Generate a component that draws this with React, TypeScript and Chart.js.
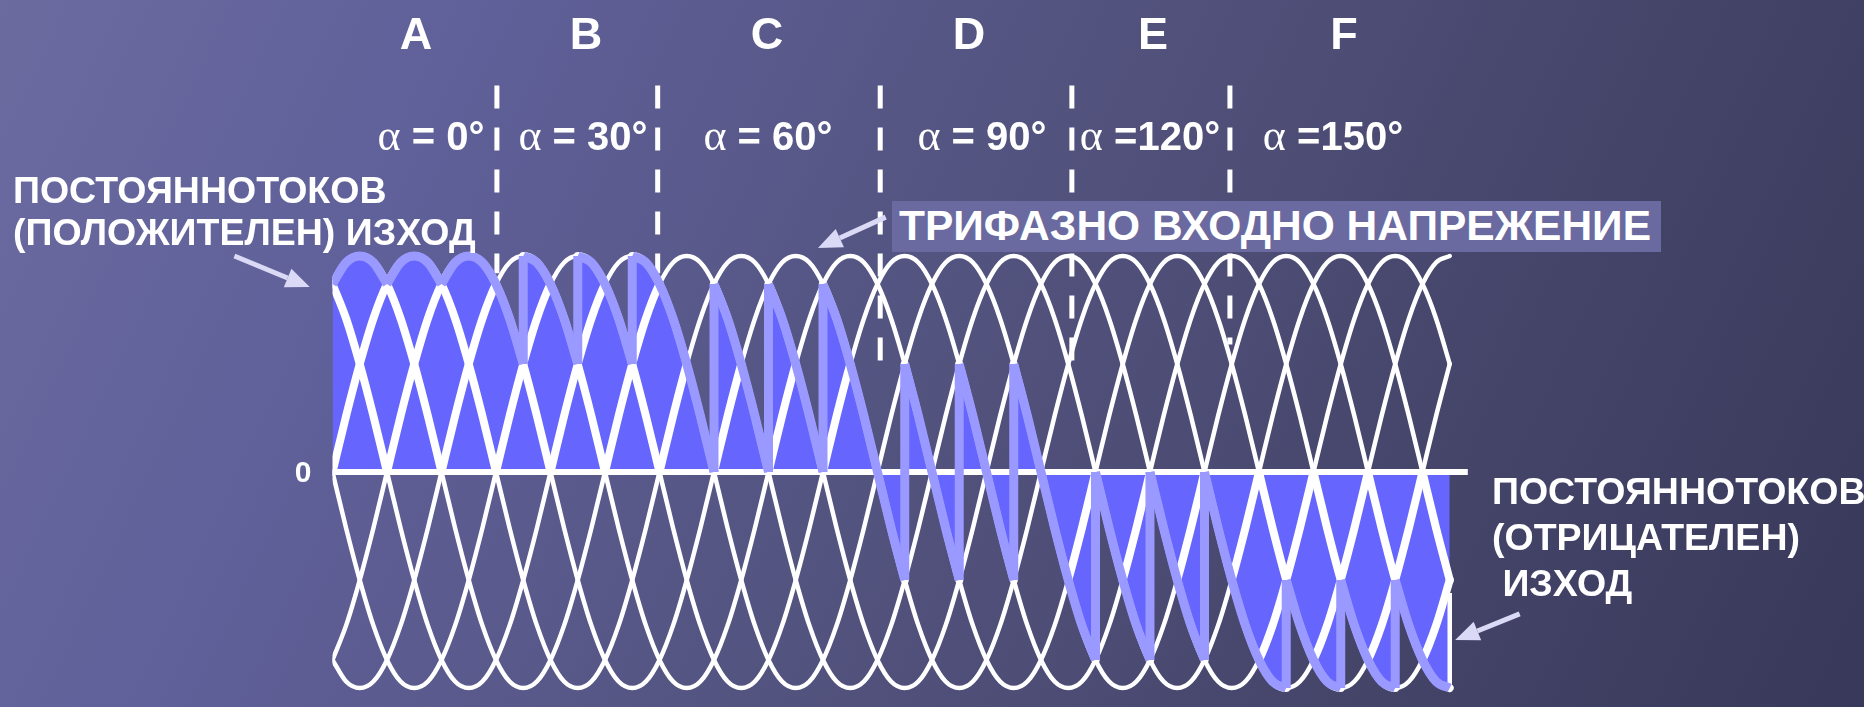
import React, { useEffect, useRef } from 'react';
import { Chart, registerables } from 'chart.js';

Chart.register(...registerables);

// ---------- data (angles in electrical degrees, values in per-unit of peak) ----------
const sampleStep = 15;
const angleStart = -60;
const angleEnd = 1170;
const zeroLineEnd = 1190;

// one period of an input phase voltage, read every 15°
const phaseCycle = [
  0, 0.26, 0.5, 0.71, 0.87, 0.97, 1, 0.97, 0.87, 0.71, 0.5, 0.26,
  0, -0.26, -0.5, -0.71, -0.87, -0.97, -1, -0.97, -0.87, -0.71, -0.5, -0.26,
];
// the six input curves (three phases and their inverses), phase shift in degrees
const phaseShifts = [0, 60, 120, 180, 240, 300];

// firing instants of the converter and the input curve switched in at each one
const firingAngles = [-60, 0, 60, 150, 210, 270, 360, 420, 480, 570, 630, 690, 780, 840, 900, 990, 1050, 1110];
const firedPhase = [5, 0, 1, 2, 3, 4, 5, 0, 1, 2, 3, 4, 5, 0, 1, 2, 3, 4];
// closing edge of the output at the right end
const rightEdge = [-0.56, -1.0];

const sectionLetters = ['A', 'B', 'C', 'D', 'E', 'F'];
const firingDelays = ['0°', '30°', '60°', '90°', '120°', '150°'];
const delaySeparators = [' = ', ' = ', ' = ', ' = ', ' =', ' ='];

// dashed section dividers
const dividerAngles = [121, 298, 543, 754, 928];
const dividerTop = 1.79;
const dividerBottoms = [0.92, 0.92, 0.51, 0.48, 0.59];

// arrows (angle, value)
const arrowTails = [[-168, 1.0], [549, 1.18], [1247, -0.657]];
const arrowTips = [[-85, 0.856], [474.5, 1.037], [1176, -0.778]];

// ---------- layout ----------
const W = 1864;
const H = 707;
const letterX = [416, 586, 767, 969, 1153, 1344];
const delayX = [431, 583, 768, 982, 1150, 1333];

const WHITE = '#ffffff';
const FILL = '#6666ff';
const OUTPUT = '#9999ff';
const ARROW = '#dadaf6';

const mod = (a: number, n: number) => ((a % n) + n) % n;
const phaseValue = (j: number, angle: number) =>
  phaseCycle[mod(Math.round((angle + 60 - phaseShifts[j]) / sampleStep), phaseCycle.length)];

const angles: number[] = [];
for (let a = angleStart; a <= angleEnd; a += sampleStep) angles.push(a);

const outputOn = (a0: number, a1: number) => {
  const mid = (a0 + a1) / 2;
  let i = firingAngles.length - 1;
  while (i > 0 && firingAngles[i] > mid) i--;
  const j = firedPhase[i];
  return (phaseValue(j, a0) + phaseValue(j, a1)) / 2;
};

function buildDatasets() {
  const ds: any[] = [];
  const area: { x: number; y: number }[] = [];

  // output arcs
  for (let i = 0; i < firingAngles.length; i++) {
    const from = firingAngles[i];
    const to = i + 1 < firingAngles.length ? firingAngles[i + 1] : angleEnd;
    const pts: { x: number; y: number }[] = [];
    for (let a = from; a <= to; a += sampleStep) pts.push({ x: a, y: phaseValue(firedPhase[i], a) });
    area.push(...pts);
    ds.push({
      label: 'output ' + i,
      data: pts,
      borderColor: OUTPUT,
      borderWidth: 9,
      fill: false,
      cubicInterpolationMode: 'monotone',
      borderCapStyle: 'butt',
      borderJoinStyle: 'round',
      order: 0,
    });
  }

  // filled output area (one polygon, no seams)
  ds.push({
    label: 'output area',
    data: area,
    borderWidth: 0,
    borderColor: 'rgba(0,0,0,0)',
    backgroundColor: FILL,
    fill: 'origin',
    tension: 0,
    order: 5,
  });

  // output jumps at firing instants
  const jumps: { x: number; y: number | null }[] = [];
  for (let i = 1; i < firingAngles.length; i++) {
    const a = firingAngles[i];
    jumps.push({ x: a, y: phaseValue(firedPhase[i - 1], a) });
    jumps.push({ x: a, y: phaseValue(firedPhase[i], a) });
    jumps.push({ x: a, y: null });
  }
  ds.push({
    label: 'jumps',
    data: jumps,
    borderColor: OUTPUT,
    borderWidth: 9,
    fill: false,
    tension: 0,
    borderCapStyle: 'butt',
    order: 0,
  });

  // dashed dividers
  dividerAngles.forEach((a, i) => {
    ds.push({
      label: 'divider ' + i,
      data: [{ x: a, y: dividerTop }, { x: a, y: dividerBottoms[i] }],
      borderColor: WHITE,
      borderWidth: 5,
      borderDash: [23, 19],
      fill: false,
      tension: 0,
      order: 1,
    });
  });

  // zero line
  ds.push({
    label: 'zero',
    data: [{ x: angleStart, y: 0 }, { x: zeroLineEnd, y: 0 }],
    borderColor: WHITE,
    borderWidth: 6,
    fill: false,
    tension: 0,
    order: 2,
  });

  // right closing edge
  ds.push({
    label: 'edge',
    data: [{ x: angleEnd, y: rightEdge[0] }, { x: angleEnd, y: rightEdge[1] }],
    borderColor: WHITE,
    borderWidth: 4.5,
    fill: false,
    tension: 0,
    order: 2,
  });

  // six input curves
  phaseShifts.forEach((_, j) => {
    const vals = angles.map((a) => phaseValue(j, a));
    ds.push({
      label: 'phase ' + j,
      data: angles.map((a, k) => ({ x: a, y: vals[k] })),
      borderColor: WHITE,
      borderWidth: 4.5,
      fill: false,
      cubicInterpolationMode: 'monotone',
      borderCapStyle: 'round',
      borderJoinStyle: 'round',
      order: 3,
      segment: {
        borderWidth: (c: any) => {
          const a0 = angles[c.p0DataIndex];
          const a1 = angles[c.p1DataIndex];
          const v = (vals[c.p0DataIndex] + vals[c.p1DataIndex]) / 2;
          const out = outputOn(a0, a1);
          const inside = out >= 0 ? v >= -0.01 && v <= out + 0.01 : v <= 0.01 && v >= out - 0.01;
          return inside ? 8 : 4.5;
        },
      },
    });
  });

  return ds;
}

const arrowPlugin = {
  id: 'arrows',
  afterDatasetsDraw(chart: any) {
    const { ctx } = chart;
    const xs = chart.scales.x;
    const ys = chart.scales.y;
    ctx.save();
    ctx.strokeStyle = ARROW;
    ctx.fillStyle = ARROW;
    ctx.lineWidth = 5;
    ctx.lineCap = 'butt';
    arrowTails.forEach((t, i) => {
      const x0 = xs.getPixelForValue(t[0]);
      const y0 = ys.getPixelForValue(t[1]);
      const x1 = xs.getPixelForValue(arrowTips[i][0]);
      const y1 = ys.getPixelForValue(arrowTips[i][1]);
      const ang = Math.atan2(y1 - y0, x1 - x0);
      const head = 24;
      const half = 10;
      const bx = x1 - head * Math.cos(ang);
      const by = y1 - head * Math.sin(ang);
      ctx.beginPath();
      ctx.moveTo(x0, y0);
      ctx.lineTo(bx, by);
      ctx.stroke();
      ctx.beginPath();
      ctx.moveTo(x1, y1);
      ctx.lineTo(bx + half * Math.sin(ang), by - half * Math.cos(ang));
      ctx.lineTo(bx - half * Math.sin(ang), by + half * Math.cos(ang));
      ctx.closePath();
      ctx.fill();
    });
    ctx.restore();
  },
};

const FONT = "'Liberation Sans', Arial, sans-serif";

function Text(props: { x: number; cy: number; size: number; children: any; center?: boolean; style?: any }) {
  const { x, cy, size, center } = props;
  const style: any = {
    position: 'absolute',
    top: cy - size * 0.49,
    fontFamily: FONT,
    fontWeight: 'bold',
    fontSize: size,
    lineHeight: size + 'px',
    color: WHITE,
    whiteSpace: 'pre',
    ...(center ? { left: x - 200, width: 400, textAlign: 'center' } : { left: x }),
    ...(props.style || {}),
  };
  return <div style={style}>{props.children}</div>;
}

export default function App() {
  const canvasRef = useRef<HTMLCanvasElement>(null);

  useEffect(() => {
    document.body.style.margin = '0';
    const canvas = canvasRef.current;
    if (!canvas) return;
    const chart = new Chart(canvas, {
      type: 'line',
      data: { datasets: buildDatasets() },
      options: {
        animation: false,
        responsive: false,
        maintainAspectRatio: false,
        devicePixelRatio: 1,
        events: [],
        layout: { padding: { left: 332.5, right: 396.1, top: 78.9, bottom: 1.7 } },
        elements: { point: { radius: 0, hoverRadius: 0 } },
        scales: {
          x: { type: 'linear', min: angleStart, max: zeroLineEnd, display: false },
          y: { type: 'linear', min: -1.08, max: 1.82, display: false },
        },
        plugins: {
          legend: { display: false },
          tooltip: { enabled: false },
          filler: { drawTime: 'beforeDatasetsDraw' },
        },
      } as any,
      plugins: [arrowPlugin],
    });
    return () => chart.destroy();
  }, []);

  return (
    <div
      style={{
        position: 'fixed',
        left: 0,
        top: 0,
        width: W,
        height: H,
        overflow: 'hidden',
        background: 'linear-gradient(115deg, #6b6ba0 0%, #60609a 22%, #53537f 50%, #45456a 76%, #38385a 100%)',
      }}
    >
      <canvas ref={canvasRef} width={W} height={H} style={{ position: 'absolute', left: 0, top: 0, width: W, height: H }} />

      {sectionLetters.map((l, i) => (
        <Text key={'l' + i} x={letterX[i]} cy={33} size={45} center>
          {l}
        </Text>
      ))}
      {firingDelays.map((d, i) => (
        <Text key={'d' + i} x={delayX[i]} cy={136} size={40} center>
          <span style={{ fontFamily: "'Liberation Serif', serif", fontWeight: 'normal', fontSize: 44 }}>α</span>
          {delaySeparators[i] + d}
        </Text>
      ))}

      <Text x={13} cy={190} size={37.5}>ПОСТОЯННОТОКОВ</Text>
      <Text x={13} cy={232} size={37.5}>(ПОЛОЖИТЕЛЕН) ИЗХОД</Text>

      <div
        style={{
          position: 'absolute',
          left: 892,
          top: 201,
          width: 769,
          height: 51,
          background: '#6a6aa0',
        }}
      />
      <Text x={899} cy={226} size={42.5}>ТРИФАЗНО ВХОДНО НАПРЕЖЕНИЕ</Text>

      <Text x={1492} cy={491} size={37.5}>ПОСТОЯННОТОКОВ</Text>
      <Text x={1492} cy={537} size={37.5}>(ОТРИЦАТЕЛЕН)</Text>
      <Text x={1492} cy={583} size={37.5}> ИЗХОД</Text>

      <Text x={303} cy={472} size={30} center>0</Text>
    </div>
  );
}
